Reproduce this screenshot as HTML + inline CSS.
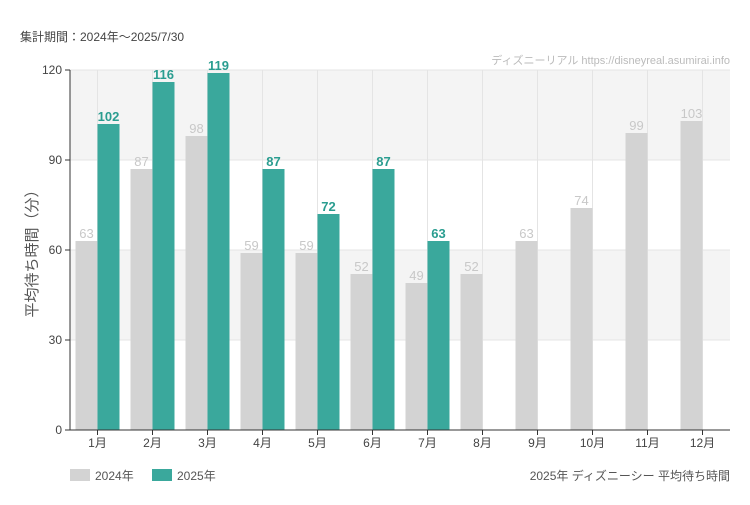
<!DOCTYPE html>
<html><head><meta charset="utf-8"><style>
body{margin:0;background:#fff;}
svg text{font-family:"Liberation Sans","Noto Sans CJK JP",sans-serif;}
.cond{font-family:"Liberation Sans Narrow","Liberation Sans","Noto Sans CJK JP",sans-serif;}
</style></head><body>
<svg id="chart" width="750" height="500" xmlns="http://www.w3.org/2000/svg">
<rect width="750" height="500" fill="#fff"/>
<text x="20" y="41" font-size="12" fill="#444">集計期間：2024年～2025/7/30</text>
<text x="730" y="64" font-size="11" fill="#bbb" text-anchor="end">ディズニーリアル https://disneyreal.asumirai.info</text>
<g id="bands"></g><g id="grid"></g><g id="bars"></g><g id="axes"></g>
<text transform="translate(37,250) rotate(-90)" font-size="15" fill="#555" text-anchor="middle">平均待ち時間（分）</text>
<rect x="70" y="469" width="20" height="12" fill="#d3d3d3"/>
<text x="95" y="480" font-size="12" fill="#555">2024年</text>
<rect x="152" y="469" width="20" height="12" fill="#3aa89c"/>
<text x="177" y="480" font-size="12" fill="#555">2025年</text>
<text x="730" y="480" font-size="12" fill="#555" text-anchor="end">2025年 ディズニーシー 平均待ち時間</text>
</svg>
<script>
const categories=["1月","2月","3月","4月","5月","6月","7月","8月","9月","10月","11月","12月"];
const values2024=[63,87,98,59,59,52,49,52,63,74,99,103];
const values2025=[102,116,119,87,72,87,63,null,null,null,null,null];
const yTicks=[0,30,60,90,120];
const NS="http://www.w3.org/2000/svg";
const X0=70,X1=730,Y0=430,Y1=70,YMAX=120;
const bw=(X1-X0)/categories.length;
const y=v=>Y0-(v/YMAX)*(Y0-Y1);
const cx=i=>X0+bw*(i+0.5);
function mk(tag,attrs,parent,txt){const e=document.createElementNS(NS,tag);for(const k in attrs)e.setAttribute(k,attrs[k]);if(txt!=null)e.textContent=txt;document.getElementById(parent).appendChild(e);return e;}
for(let t=0;t<yTicks.length-1;t++){
  if(t%2===1){const r=mk('rect',{x:X0,y:y(yTicks[t+1]),width:X1-X0,height:y(yTicks[t])-y(yTicks[t+1]),fill:'#f4f4f4'},'bands');
  
  }
}
yTicks.forEach(v=>{
  const l=mk('line',{x1:X0,x2:X1,y1:y(v),y2:y(v),stroke:'#e4e4e4'},'grid');
  
  
  const tk=mk('line',{x1:X0-5,x2:X0,y1:y(v),y2:y(v),stroke:'#333'},'axes');
  
  
  const tx=mk('text',{x:X0-8,y:y(v)+4,'font-size':12,fill:'#444','text-anchor':'end'},'axes',String(v));
  
  
});
categories.forEach((c,i)=>{
  const g=mk('line',{x1:cx(i),x2:cx(i),y1:Y1,y2:Y0,stroke:'#e4e4e4'},'grid');
  
  
  const w=22;
  const a=values2024[i];
  if(a!=null){
    const r=mk('rect',{x:cx(i)-w,y:y(a),width:w,height:Y0-y(a),fill:'#d3d3d3'},'bars');
    
    
    const t=mk('text',{class:'cond',x:cx(i)-w/2,y:y(a)-3,'font-size':13,fill:'#c8c8c8','text-anchor':'middle'},'bars',String(a));
    
    
  }
  const b=values2025[i];
  if(b!=null){
    const r=mk('rect',{x:cx(i),y:y(b),width:w,height:Y0-y(b),fill:'#3aa89c'},'bars');
    
    
    const t=mk('text',{class:'cond',x:cx(i)+w/2,y:y(b)-3,'font-size':13,'font-weight':'bold',fill:'#2a9d90','text-anchor':'middle'},'bars',String(b));
    
    
  }
  const tk=mk('line',{x1:cx(i),x2:cx(i),y1:Y0,y2:Y0+5,stroke:'#333'},'axes');
  
  
  const tx=mk('text',{x:cx(i),y:Y0+17,'font-size':12,fill:'#444','text-anchor':'middle'},'axes',c);
  
  
});
const ya=mk('line',{x1:X0,x2:X0,y1:Y1,y2:Y0,stroke:'#333'},'axes');


const xa=mk('line',{x1:X0,x2:X1,y1:Y0,y2:Y0,stroke:'#333'},'axes');


</script>
</body></html>
